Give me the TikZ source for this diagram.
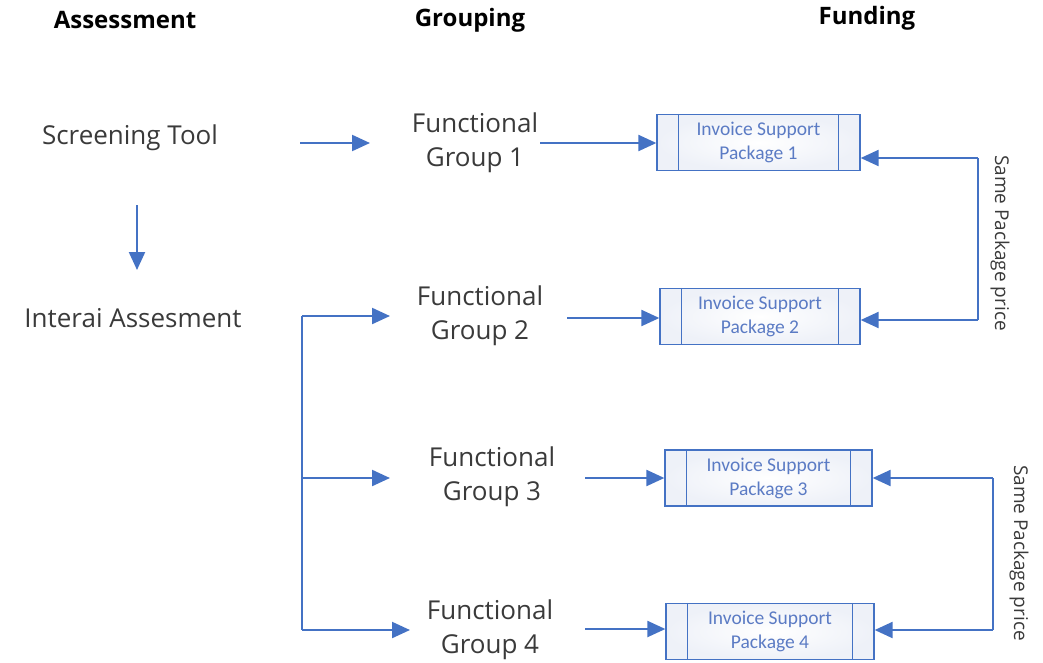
\documentclass[tikz,border=0pt]{standalone}
\usepackage{fontspec}
\setmainfont{Open Sans}
\newfontfamily\boxfont{Carlito}
\usetikzlibrary{arrows.meta}
\definecolor{lineblue}{HTML}{4472C4}
\definecolor{boxtext}{HTML}{5B7BC4}
\definecolor{boxfill}{HTML}{EEF1F8}
\definecolor{txt}{HTML}{3A3A3A}
\tikzset{
  head/.style={font=\bfseries\fontsize{24}{28}\selectfont, text=black},
  lbl/.style={font=\fontsize{26}{34}\selectfont, text=txt, align=center},
  conn/.style={draw=lineblue, line width=2.2pt, -{Triangle[length=18pt,width=16pt]}},
  plain/.style={draw=lineblue, line width=2.2pt},
  side/.style={font=\fontsize{19}{22}\selectfont, text=txt, rotate=-90},
  pkg/.style={draw=lineblue, line width=1.3pt, inner color=white, outer color=boxfill, minimum height=56pt, align=center, text=boxtext, font=\boxfont\fontsize{19.5}{24}\selectfont},
}
\newcommand{\sidebars}[1]{%
  \draw[lineblue, line width=1.3pt] ([xshift=22pt]#1.north west) -- ([xshift=22pt]#1.south west);
  \draw[lineblue, line width=1.3pt] ([xshift=-22pt]#1.north east) -- ([xshift=-22pt]#1.south east);}
\begin{document}
\begin{tikzpicture}[x=1pt,y=-1pt]
\useasboundingbox (0,0) rectangle (1043,662);
% headings
\node[head] (hA) at (125,20) {Assessment};
\node[head] (hG) at (470,20) {Grouping};
\node[head] (hF) at (867,18) {Funding};
% assessment
\node[lbl] (st) at (130,138) {Screening Tool};
\node[lbl] (ia) at (133,318) {Interai Assesment};
% groups
\node[lbl] (g1) at (475,143) {Functional\\Group 1};
\node[lbl] (g2) at (480,316) {Functional\\Group 2};
\node[lbl] (g3) at (492,477) {Functional\\Group 3};
\node[lbl] (g4) at (490,630) {Functional\\Group 4};
% packages
\node[pkg, minimum width=203pt] (p1) at (758.5,142.5) {Invoice Support\\Package 1};
\node[pkg, minimum width=200pt] (p2) at (760,316.5) {Invoice Support\\Package 2};
\node[pkg, minimum width=207pt] (p3) at (768.5,478) {Invoice Support\\Package 3};
\node[pkg, minimum width=208pt] (p4) at (770,631.5) {Invoice Support\\Package 4};
\sidebars{p1}\sidebars{p2}\sidebars{p3}\sidebars{p4}
% assessment arrows
\coordinate (a1s) at (300,143);
\coordinate (a1e) at (370,143);
\draw[conn] (a1s) -- (a1e);
\coordinate (d1s) at (137,205);
\coordinate (d1e) at (137,270);
\draw[conn] (d1s) -- (d1e);
% left bracket
\coordinate (bt) at (302,316);
\coordinate (bm) at (302,478);
\coordinate (bb) at (302,630);
\draw[plain] (bt) -- (bb);
\draw[conn] (bt) -- (390,316);
\draw[conn] (bm) -- (390,478);
\draw[conn] (bb) -- (410,630);
% group to package
\coordinate (c1) at (540,143);
\coordinate (c2) at (567,318);
\coordinate (c3) at (585,478);
\coordinate (c4) at (585,629);
\draw[conn] (c1) -- (p1.west |- c1);
\draw[conn] (c2) -- (p2.west |- c2);
\draw[conn] (c3) -- (p3.west |- c3);
\draw[conn] (c4) -- (p4.west |- c4);
% right brackets
\coordinate (r1t) at (978,158);
\coordinate (r1b) at (978,320);
\draw[plain] (r1t) -- (r1b);
\draw[conn] (r1t) -- (p1.east |- r1t);
\draw[conn] (r1b) -- (p2.east |- r1b);
\node[side] (s1) at (1000,243) {Same Package price};
\coordinate (r2t) at (993,478);
\coordinate (r2b) at (993,630);
\draw[plain] (r2t) -- (r2b);
\draw[conn] (r2t) -- (p3.east |- r2t);
\draw[conn] (r2b) -- (p4.east |- r2b);
\node[side] (s2) at (1019,553) {Same Package price};
\end{tikzpicture}
\end{document}
